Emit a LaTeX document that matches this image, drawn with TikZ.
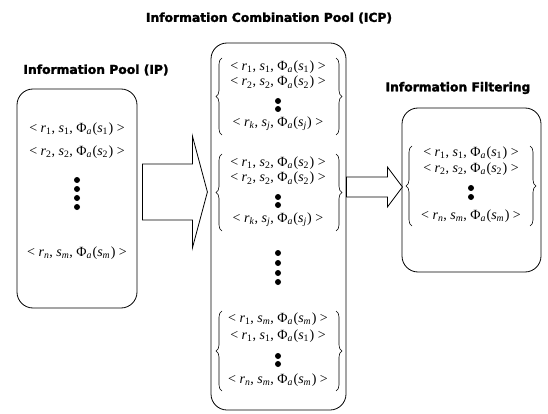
\documentclass[tikz,border=0pt]{standalone}
\usepackage{fontspec}
\setmainfont{Liberation Serif}
\newfontfamily\titlefont[FakeBold=2]{DejaVu Sans Bold}
\usetikzlibrary{decorations.pathreplacing,calc}
\newcommand{\tup}[3]{<\kern3.5pt\textit{r}\textsubscript{#1}, \textit{s}\textsubscript{#2}, Φ\textsubscript{\textit{a}}\kern0.5pt(\textit{s}\textsubscript{#3}\kern0.5pt)\kern3.5pt>}
\begin{document}
\begin{tikzpicture}[x=1pt,y=-1pt,
  pool/.style={draw,rounded corners=16pt,line width=0.8pt},
  ttl/.style={font=\titlefont\fontsize{12.3}{14}\selectfont,inner sep=0pt},
  item/.style={font=\fontsize{14}{16}\selectfont,inner sep=0pt},
  dotm/.style={circle,fill,inner sep=0pt,minimum size=6pt},
  blockarrow/.style={draw,line width=0.8pt,fill=white,line join=miter},
  cbrace/.style={decorate,decoration={brace,amplitude=6pt},line width=0.6pt}
]
\useasboundingbox (0,0) rectangle (548,414);

% boxes
\node[pool,minimum width=120pt,minimum height=219pt] (ip) at (77,198.5) {};
\node[pool,minimum width=135pt,minimum height=367pt] (icp) at (278.5,226.5) {};
\node[pool,minimum width=139pt,minimum height=164pt] (if) at (471.5,190) {};

% titles
\node[ttl] (tip) at (96,70) {Information Pool (IP)};
\node[ttl] (ticp) at (269,18) {Information Combination Pool (ICP)};
\node[ttl] (tif) at (458,88) {Information Filtering};

% IP contents
\node[item] (ip1) at (77,129) {\tup{1}{1}{1}};
\node[item] (ip2) at (77,152) {\tup{2}{2}{2}};
\foreach \y [count=\i] in {180,189,198,207} \node[dotm] (ipd\i) at (77,\y) {};
\node[item] (ipn) at (77,253) {\tup{\textit{n}}{\textit{m}}{\textit{m}}};

% ICP group 1
\node[item] (a1) at (278,67) {\tup{1}{1}{1}};
\node[item] (a2) at (278,82.5) {\tup{2}{2}{2}};
\node[dotm] (ad1) at (278,101) {};
\node[dotm] (ad2) at (278,109) {};
\node[item] (ak) at (278,124) {\tup{\textit{k}}{\textit{j}}{\textit{j}}};
\draw[cbrace] (222,135) -- (222,58);
\draw[cbrace] (336,58) -- (336,135);

% ICP group 2
\node[item] (b1) at (278,163) {\tup{1}{2}{2}};
\node[item] (b2) at (278,178.5) {\tup{2}{2}{2}};
\node[dotm] (bd1) at (278,197) {};
\node[dotm] (bd2) at (278,205) {};
\node[item] (bk) at (278,220) {\tup{\textit{k}}{\textit{j}}{\textit{j}}};
\draw[cbrace] (222,231) -- (222,154);
\draw[cbrace] (336,154) -- (336,231);

% ICP middle dots
\foreach \y [count=\i] in {253,263,273,282} \node[dotm] (md\i) at (278,\y) {};

% ICP group 3
\node[item] (c1) at (278,319) {\tup{1}{\textit{m}}{\textit{m}}};
\node[item] (c2) at (278,336) {\tup{1}{1}{1}};
\node[dotm] (cd1) at (278,356) {};
\node[dotm] (cd2) at (278,364) {};
\node[item] (cn) at (278,380) {\tup{\textit{n}}{\textit{m}}{\textit{m}}};
\draw[cbrace] (222,391) -- (222,311);
\draw[cbrace] (336,311) -- (336,391);

% IF contents
\node[item] (f1) at (471,153) {\tup{1}{1}{1}};
\node[item] (f2) at (471,169) {\tup{2}{2}{2}};
\node[dotm] (fd1) at (471,188) {};
\node[dotm] (fd2) at (471,197) {};
\node[item] (fn) at (471,216) {\tup{\textit{n}}{\textit{m}}{\textit{m}}};
\draw[cbrace] (412,226) -- (412,146);
\draw[cbrace] (530,146) -- (530,226);

% block arrows
\coordinate (a1tail) at ($(ip.east)+(5,-6.5)$);
\draw[blockarrow,shift={(a1tail)}] (0,-28) -- (50,-28) -- (50,-56) -- (65,0) -- (50,56) -- (50,28) -- (0,28) -- cycle;
\coordinate (a2tail) at ($(icp.east)+(0,-39.5)$);
\draw[blockarrow,shift={(a2tail)}] (0,-10) -- (41,-10) -- (41,-20) -- (56,0) -- (41,20) -- (41,10) -- (0,10) -- cycle;
\end{tikzpicture}
\end{document}
